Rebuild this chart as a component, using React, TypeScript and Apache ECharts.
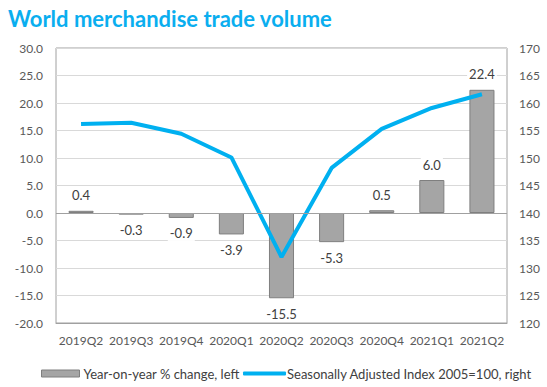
import React, { useEffect, useRef } from "react";
import * as echarts from "echarts";

const categories = ["2019Q2", "2019Q3", "2019Q4", "2020Q1", "2020Q2", "2020Q3", "2020Q4", "2021Q1", "2021Q2"];
const yoyChange = [0.4, -0.3, -0.9, -3.9, -15.5, -5.3, 0.5, 6.0, 22.4];
const seasonalIndex = [156.2, 156.4, 154.4, 150.1, 132.0, 148.2, 155.3, 159.1, 161.6];
const barName = "Year-on-year % change, left";
const lineName = "Seasonally Adjusted Index 2005=100, right";
const titleText = "World merchandise trade volume";

const FONT = "Lato";

export default function App() {
  const ref = useRef<HTMLDivElement>(null);
  useEffect(() => {
    document.body.style.margin = "0";
    const chart = echarts.init(ref.current!, undefined, { renderer: "svg" });
    const legendText = { color: "#404040", fontSize: 13, fontFamily: FONT };
    chart.setOption({
      animation: false,
      backgroundColor: "#ffffff",
      textStyle: { fontFamily: FONT },
      title: {
        text: titleText,
        left: 3,
        top: 2,
        textStyle: { color: "#0AAEEF", fontSize: 22, fontWeight: "bold", fontFamily: FONT },
      },
      grid: {
        left: 56,
        right: 40,
        top: 48,
        bottom: 64,
        show: true,
        borderColor: "#a0a0a0",
        borderWidth: 1,
        backgroundColor: "transparent",
      },
      legend: [
        {
          top: 362,
          left: 36,
          itemWidth: 38,
          itemHeight: 7,
          itemGap: 10,
          textStyle: { ...legendText, padding: [0, 0, 0, -1] },
          data: [
            { name: barName, icon: "rect", itemStyle: { color: "#a5a5a5", borderColor: "#7f7f7f", borderWidth: 1 } },
          ],
        },
        {
          top: 362,
          left: 238,
          itemWidth: 43,
          itemHeight: 4,
          textStyle: { ...legendText, padding: [0, 0, 0, -4] },
          data: [{ name: lineName, icon: "roundRect", itemStyle: { color: "#00B0F0" } }],
        },
      ],
      xAxis: {
        type: "category",
        data: categories,
        axisLine: { onZero: false, lineStyle: { color: "#a0a0a0" } },
        axisTick: { show: false },
        axisLabel: { color: "#595959", fontSize: 12, margin: 11, fontFamily: FONT, interval: 0 },
      },
      yAxis: [
        {
          type: "value",
          min: -20,
          max: 30,
          interval: 5,
          axisLine: { show: false },
          axisTick: { show: false },
          splitLine: { lineStyle: { color: "#d9d9d9", width: 1 } },
          axisLabel: {
            color: "#595959",
            fontSize: 12,
            margin: 13,
            fontFamily: FONT,
            formatter: (v: number) => v.toFixed(1),
          },
        },
        {
          type: "value",
          min: 120,
          max: 170,
          interval: 5,
          axisLine: { show: false },
          axisTick: { show: false },
          splitLine: { show: false },
          axisLabel: { color: "#595959", fontSize: 12, margin: 12, fontFamily: FONT },
        },
      ],
      series: [
        {
          name: barName,
          type: "bar",
          yAxisIndex: 0,
          barWidth: "50%",
          itemStyle: { color: "#a5a5a5", borderColor: "#7f7f7f", borderWidth: 1 },
          data: yoyChange.map((v) => ({
            value: v,
            label: {
              show: true,
              position: v >= 0 ? "top" : "bottom",
              distance: 8,
              color: "#404040",
              fontSize: 13,
              fontFamily: FONT,
              backgroundColor: "#ffffff",
              padding: [1, 2],
              formatter: () => v.toFixed(1),
            },
          })),
          markLine: {
            silent: true,
            symbol: "none",
            label: { show: false },
            lineStyle: { color: "#a0a0a0", type: "solid", width: 1 },
            data: [{ yAxis: 0 }],
          },
          z: 2,
        },
        {
          name: lineName,
          type: "line",
          yAxisIndex: 1,
          data: seasonalIndex,
          symbol: "none",
          lineStyle: { color: "#00B0F0", width: 4 },
          itemStyle: { color: "#00B0F0" },
          z: 3,
        },
      ],
    });
    return () => chart.dispose();
  }, []);
  return <div ref={ref} style={{ width: 547, height: 387 }} />;
}
